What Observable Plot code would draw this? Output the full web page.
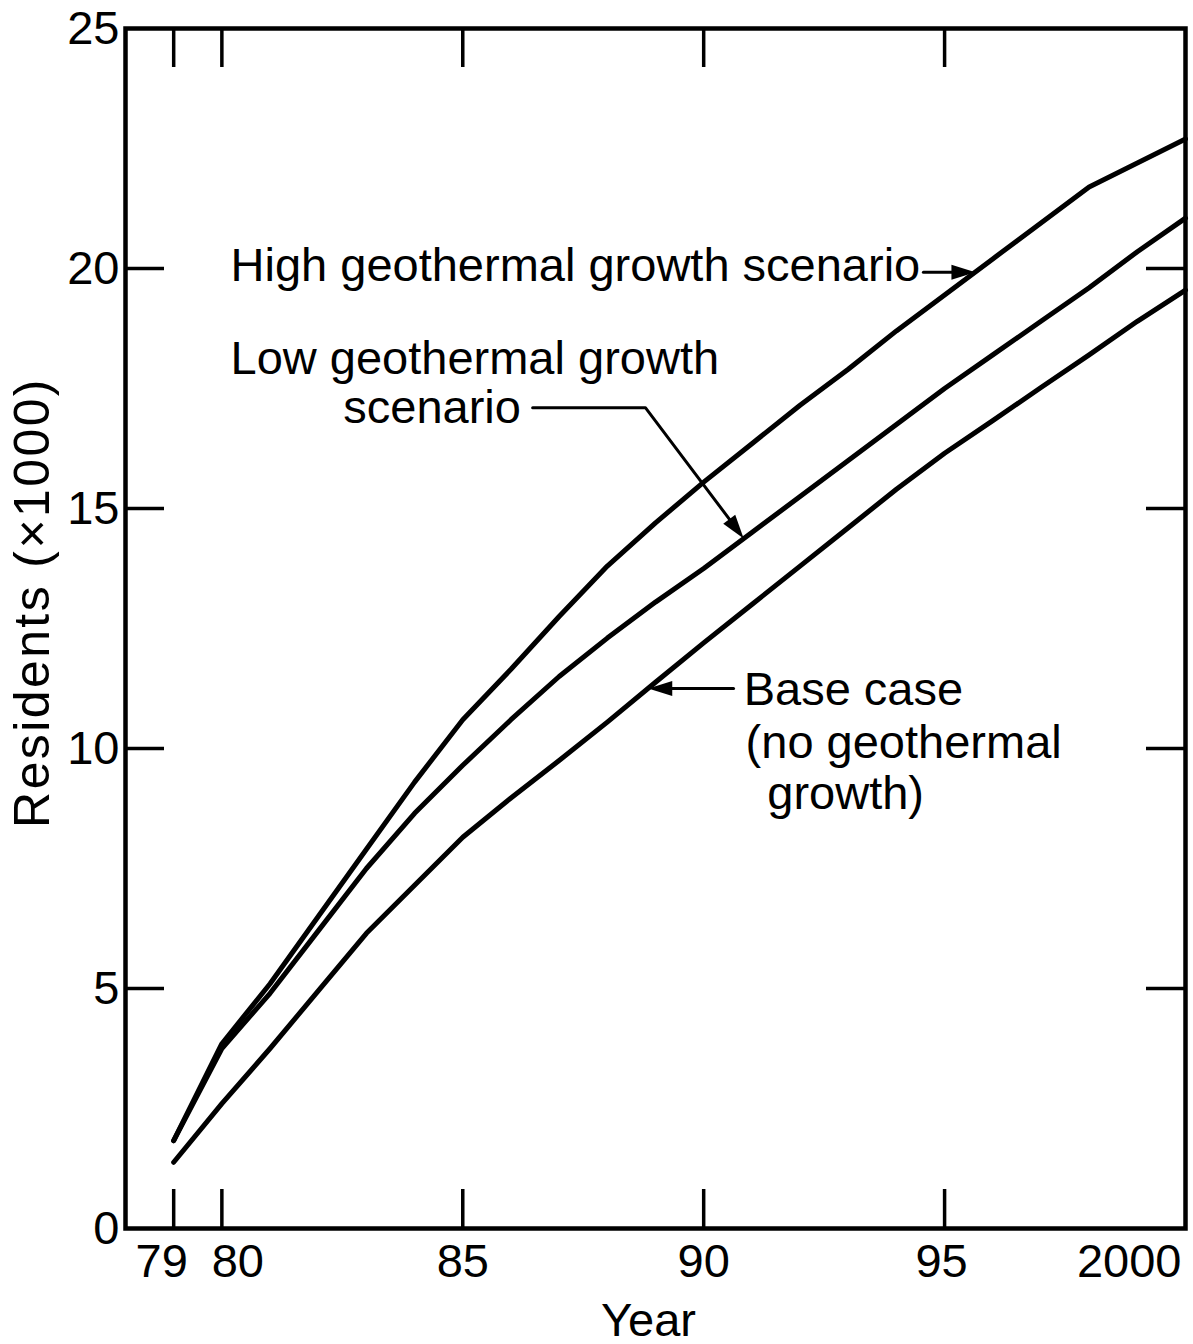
<!DOCTYPE html>
<html>
<head>
<meta charset="utf-8">
<script src="https://cdn.jsdelivr.net/npm/d3@7"></script>
<script src="https://cdn.jsdelivr.net/npm/@observablehq/plot@0.6"></script>
<style>
  html, body { margin: 0; padding: 0; background: #fff; }
  #chart svg { display: block; }
</style>
</head>
<body>
<div id="chart"></div>
<script>
// ---------- data ----------
const years = [1979, 1980, 1981, 1982, 1983, 1984, 1985, 1986, 1987, 1988, 1989,
               1990, 1991, 1992, 1993, 1994, 1995, 1996, 1997, 1998, 1999, 2000];
const highGrowth = [1.83, 3.85, 5.1, 6.5, 7.9, 9.3, 10.6, 11.65, 12.75, 13.8, 14.7,
                    15.55, 16.35, 17.15, 17.9, 18.7, 19.45, 20.2, 20.95, 21.7, 22.2, 22.7];
const lowGrowth = [1.83, 3.75, 4.9, 6.2, 7.5, 8.65, 9.65, 10.6, 11.5, 12.3, 13.05,
                   13.75, 14.5, 15.25, 16.0, 16.75, 17.5, 18.2, 18.9, 19.6, 20.35, 21.05];
const baseCase = [1.38, 2.6, 3.75, 4.95, 6.15, 7.15, 8.15, 8.97, 9.75, 10.55, 11.38,
                  12.2, 13.0, 13.8, 14.6, 15.4, 16.15, 16.83, 17.52, 18.2, 18.9, 19.55];

const xTickMarks = [1979, 1980, 1985, 1990, 1995];
const xTickYears = [1979, 1980, 1985, 1990, 1995, 2000];
const xTickLabels = ["79", "80", "85", "90", "95", "2000"];
const yTickMarks = [5, 10, 15, 20];
const yTickValues = [0, 5, 10, 15, 20, 25];
const xLabel = "Year";
const yLabel = "Residents (×1000)";

// annotation texts and their anchor positions (year, residents ×1000)
const annoText = ["High geothermal growth scenario", "Low geothermal growth", "scenario",
                  "Base case", "(no geothermal", "growth)"];
const annoX = [1980.18, 1980.18, 1982.52, 1990.83, 1990.87, 1991.32];
const annoY = [19.75, 17.81, 16.79, 10.90, 9.81, 8.73];

// leader lines (polylines) in data coordinates
const leaderHigh = [[1994.56, 19.92], [1995.4, 19.92]];
const leaderLow = [[1986.45, 17.10], [1988.79, 17.10], [1990.72, 14.53]];
const leaderBase = [[1990.62, 11.25], [1989.1, 11.25]];
// arrow tips and headings (degrees clockwise from "up")
const tipX = [1995.64, 1990.83, 1988.85];
const tipY = [19.92, 14.375, 11.25];
const tipAngle = [90, 143, 270];

// ---------- build tables ----------
const rows = years.flatMap((yr, i) => [
  {year: yr, value: highGrowth[i], series: "High"},
  {year: yr, value: lowGrowth[i], series: "Low"},
  {year: yr, value: baseCase[i], series: "Base"}
]);
const annos = annoText.map((t, i) => ({text: t, x: annoX[i], y: annoY[i]}));
const tips = tipX.map((x, i) => ({x, y: tipY[i], a: tipAngle[i]}));

// ---------- layout ----------
const W = 1193, H = 1344;
const mL = 125, mR = 8, mT = 28, mB = 116;
const plotW = W - mL - mR, plotH = H - mT - mB;
const FONT = "'Liberation Sans', Arial, sans-serif";
const FS = 47;
const TICK = 39;

const arrowHead = {
  draw(ctx) {
    ctx.moveTo(0, 0);
    ctx.lineTo(7.5, 24);
    ctx.lineTo(-7.5, 24);
    ctx.closePath();
  }
};

const xShift = [-12, 16, 0, 0, -3, -4];
const xAnchor = ["middle", "middle", "middle", "middle", "middle", "end"];

const marks = [
  Plot.frame({stroke: "black", strokeWidth: 4.5}),
  // inward ticks on all four sides
  Plot.tickX(xTickMarks, {x: d => d, insetTop: plotH - TICK, stroke: "black", strokeWidth: 3.5}),
  Plot.tickX(xTickMarks, {x: d => d, insetBottom: plotH - TICK, stroke: "black", strokeWidth: 3.5}),
  Plot.tickY(yTickMarks, {y: d => d, insetRight: plotW - TICK, stroke: "black", strokeWidth: 3.5}),
  Plot.tickY(yTickMarks, {y: d => d, insetLeft: plotW - TICK, stroke: "black", strokeWidth: 3.5}),
  // y tick labels
  Plot.text(yTickValues, {
    x: 1978, y: d => d, text: d => String(d), textAnchor: "end", lineAnchor: "middle",
    dx: -6, fontSize: FS, fill: "black"
  }),
  // x tick labels
  ...xTickYears.map((yr, i) => Plot.text([i], {
    x: () => yr, y: () => 0, text: () => xTickLabels[i], textAnchor: xAnchor[i],
    lineAnchor: "top", dy: 15, dx: xShift[i], fontSize: FS, fill: "black"
  })),
  // axis titles
  Plot.text([xLabel], {frameAnchor: "bottom", text: d => d, lineAnchor: "top", dy: 74, dx: -7,
    fontSize: FS, fill: "black"}),
  Plot.text([yLabel], {frameAnchor: "left", text: d => d, rotate: -90, lineAnchor: "middle",
    textAnchor: "middle", dx: -93, dy: -26, fontSize: 50, fill: "black", className: "ylab"}),
  // data lines
  Plot.line(rows, {x: "year", y: "value", z: "series", stroke: "black", strokeWidth: 5,
    strokeLinejoin: "round", strokeLinecap: "round"}),
  // leader lines and arrowheads
  Plot.line(leaderHigh, {x: d => d[0], y: d => d[1], stroke: "black", strokeWidth: 3}),
  Plot.line(leaderLow, {x: d => d[0], y: d => d[1], stroke: "black", strokeWidth: 3}),
  Plot.line(leaderBase, {x: d => d[0], y: d => d[1], stroke: "black", strokeWidth: 3}),
  Plot.dot(tips, {x: "x", y: "y", rotate: "a", symbol: arrowHead, r: 10, fill: "black", stroke: "none"}),
  // annotation labels
  Plot.text(annos, {x: "x", y: "y", text: "text", textAnchor: "start", lineAnchor: "bottom",
    fontSize: FS, fill: "black"})
];

const chart = Plot.plot({
  width: W, height: H,
  marginLeft: mL, marginRight: mR, marginTop: mT, marginBottom: mB,
  x: {domain: [1978, 2000], axis: null},
  y: {domain: [0, 25], axis: null},
  style: {fontFamily: FONT, background: "white", color: "black", overflow: "visible"},
  marks
});
// slightly wider tracking on the vertical axis title, as in the reference lettering
d3.select(chart).selectAll("g.ylab text").attr("letter-spacing", "2.4px");
document.getElementById("chart").appendChild(chart);
</script>
</body>
</html>
